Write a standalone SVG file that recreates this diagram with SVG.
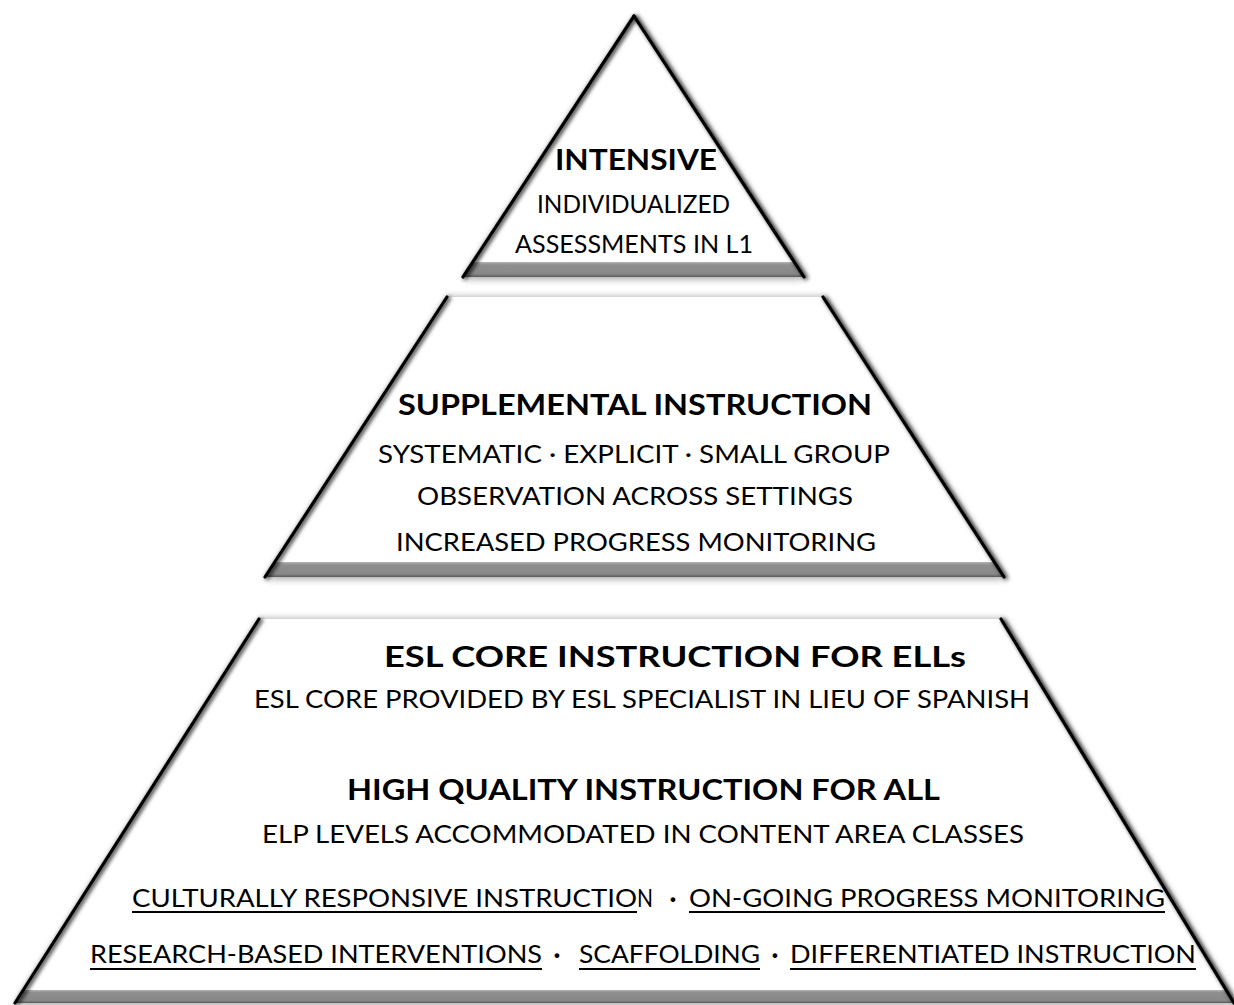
<svg xmlns="http://www.w3.org/2000/svg" width="1234" height="1005" viewBox="0 0 1234 1005">
<defs>
<filter id="shadow" x="-10%" y="-10%" width="120%" height="120%">
<feGaussianBlur in="SourceAlpha" stdDeviation="4" result="b"/>
<feOffset in="b" dx="2" dy="1" result="o"/>
<feComponentTransfer in="o" result="s"><feFuncA type="linear" slope="0.45"/></feComponentTransfer>
<feMerge><feMergeNode in="s"/><feMergeNode in="SourceGraphic"/></feMerge>
</filter>
<filter id="soft" x="-10%" y="-10%" width="120%" height="120%">
<feGaussianBlur in="SourceGraphic" stdDeviation="2.2" result="b"/>
<feOffset in="b" dx="2" dy="1" result="o"/>
<feMerge><feMergeNode in="o"/><feMergeNode in="SourceGraphic"/></feMerge>
</filter>
<linearGradient id="band" x1="0" y1="0" x2="0" y2="1">
<stop offset="0" stop-color="#b4b4b4"/>
<stop offset="0.2" stop-color="#8e8e8e"/>
<stop offset="0.8" stop-color="#888888"/>
<stop offset="1" stop-color="#5a5a5a"/>
</linearGradient>
</defs>
<style>
.fill{fill:#ffffff}
.band{fill:url(#band)}
.edge{stroke:#000;stroke-width:3.2;fill:none;stroke-linecap:round}
.t{font-family:Lato,"Liberation Sans",sans-serif;fill:#000}
.h{font-size:28px;font-weight:bold}
.r{font-size:25px}
.d{font-size:25px;font-weight:bold}
.ul{stroke:#000;stroke-width:2}
</style>
<rect width="1234" height="1005" fill="#ffffff"/>

<g id="tier-intensive">
<polygon class="fill" filter="url(#shadow)" points="634,16 804,277 463,277"/>
<polygon class="band" points="473,262 794,262 804,277 463,277"/>
<g filter="url(#soft)">
<line class="edge" x1="634" y1="16" x2="463" y2="277"/>
<line class="edge" x1="634" y1="16" x2="804" y2="277"/>
</g>
<text class="t h" x="555" y="170" textLength="162" lengthAdjust="spacingAndGlyphs">INTENSIVE</text>
<text class="t r" x="537" y="213" textLength="193" lengthAdjust="spacingAndGlyphs">INDIVIDUALIZED</text>
<text class="t r" x="515" y="253" textLength="238" lengthAdjust="spacingAndGlyphs">ASSESSMENTS IN L1</text>
</g>

<g id="tier-supplemental">
<polygon class="fill" filter="url(#shadow)" points="447,297 823,297 1004,577 265,577"/>
<polygon class="band" points="275,562 994,562 1004,577 265,577"/>
<g filter="url(#soft)">
<line class="edge" x1="447" y1="297" x2="265" y2="577"/>
<line class="edge" x1="823" y1="297" x2="1004" y2="577"/>
</g>
<text class="t h" x="398" y="415" textLength="474" lengthAdjust="spacingAndGlyphs">SUPPLEMENTAL INSTRUCTION</text>
<text class="t r" x="378" y="463" textLength="512" lengthAdjust="spacingAndGlyphs">SYSTEMATIC · EXPLICIT · SMALL GROUP</text>
<text class="t r" x="417" y="505" textLength="436" lengthAdjust="spacingAndGlyphs">OBSERVATION ACROSS SETTINGS</text>
<text class="t r" x="396" y="551" textLength="480" lengthAdjust="spacingAndGlyphs">INCREASED PROGRESS MONITORING</text>
</g>

<g id="tier-core">
<polygon class="fill" filter="url(#shadow)" points="259,619 1001,619 1234,1003 15,1003"/>
<polygon class="band" points="23,990 1226,990 1234,1003 15,1003"/>
<g filter="url(#soft)">
<line class="edge" x1="259" y1="619" x2="15" y2="1003"/>
<line class="edge" x1="1001" y1="619" x2="1234" y2="1003"/>
</g>
<text class="t h" x="384" y="667" textLength="582" lengthAdjust="spacingAndGlyphs">ESL CORE INSTRUCTION FOR ELLs</text>
<text class="t r" x="254" y="708" textLength="776" lengthAdjust="spacingAndGlyphs">ESL CORE PROVIDED BY ESL SPECIALIST IN LIEU OF SPANISH</text>
<text class="t h" x="347" y="800" textLength="593" lengthAdjust="spacingAndGlyphs">HIGH QUALITY INSTRUCTION FOR ALL</text>
<text class="t r" x="262" y="843" textLength="762" lengthAdjust="spacingAndGlyphs">ELP LEVELS ACCOMMODATED IN CONTENT AREA CLASSES</text>

<text class="t r" x="132" y="907" textLength="505" lengthAdjust="spacingAndGlyphs">CULTURALLY RESPONSIVE INSTRUCTIO</text>
<text class="t r" x="637" y="907" textLength="16" lengthAdjust="spacingAndGlyphs">N</text>
<text class="t d" x="673" y="907" text-anchor="middle">·</text>
<text class="t r" x="689" y="907" textLength="476" lengthAdjust="spacingAndGlyphs">ON-GOING PROGRESS MONITORING</text>
<line class="ul" x1="132" y1="912" x2="637" y2="912"/>
<line class="ul" x1="689" y1="912" x2="1165" y2="912"/>

<text class="t r" x="90" y="963" textLength="452" lengthAdjust="spacingAndGlyphs">RESEARCH-BASED INTERVENTIONS</text>
<text class="t d" x="557" y="963" text-anchor="middle">·</text>
<text class="t r" x="579" y="963" textLength="181" lengthAdjust="spacingAndGlyphs">SCAFFOLDING</text>
<text class="t d" x="775" y="963" text-anchor="middle">·</text>
<text class="t r" x="790" y="963" textLength="406" lengthAdjust="spacingAndGlyphs">DIFFERENTIATED INSTRUCTION</text>
<line class="ul" x1="90" y1="969" x2="542" y2="969"/>
<line class="ul" x1="579" y1="969" x2="760" y2="969"/>
<line class="ul" x1="790" y1="969" x2="1196" y2="969"/>
</g>
</svg>
